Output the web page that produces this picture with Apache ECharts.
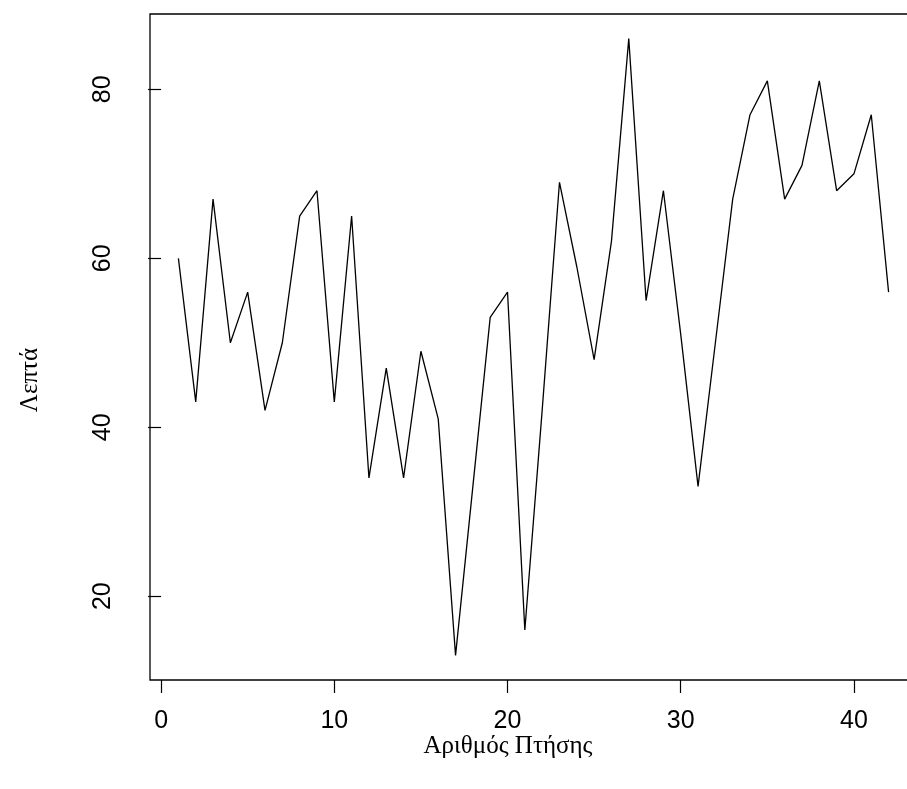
<!DOCTYPE html>
<html>
<head>
<meta charset="utf-8">
<script src="https://cdn.jsdelivr.net/npm/echarts@6/dist/echarts.min.js"></script>
<style>
html,body{margin:0;padding:0;background:#fff;}
#chart{width:907px;height:789px;}
</style>
</head>
<body>
<div id="chart"></div>
<script>
const flightNo = [1,2,3,4,5,6,7,8,9,10,11,12,13,14,15,16,17,18,19,20,21,22,23,24,25,26,27,28,29,30,31,32,33,34,35,36,37,38,39,40,41,42];
const minutes = [60,43,67,50,56,42,50,65,68,43,65,34,47,34,49,41,13,33,53,56,16,42,69,59,48,62,86,55,68,51,33,50,67,77,81,67,71,81,68,70,77,56];
const xTicks = [0,10,20,30,40];
const yTicks = [20,40,60,80];
const xTitle = 'Αριθμός Πτήσης';
const yTitle = 'Λεπτά';

const chart = echarts.init(document.getElementById('chart'), null, {renderer:'canvas'});
const tickFont = 'Liberation Sans, Arial, sans-serif';
const titleFont = 'Liberation Serif, Times New Roman, serif';
chart.setOption({
  animation:false,
  backgroundColor:'#fff',
  grid:{left:150, top:14, width:767, height:666, outerBoundsMode:'none', containLabel:false,
        show:true, borderColor:'#000', borderWidth:1.3, backgroundColor:'transparent'},
  xAxis:{
    type:'value', min:-0.64, max:43.64,
    axisLine:{show:false},
    splitLine:{show:false},
    axisTick:{show:true, customValues:xTicks, length:13, lineStyle:{color:'#000', width:1.2}},
    axisLabel:{customValues:xTicks, fontSize:25, fontFamily:tickFont, color:'#000', margin:29}
  },
  yAxis:{
    type:'value', min:10.08, max:88.92,
    axisLine:{show:false},
    splitLine:{show:false},
    axisTick:{show:true, customValues:yTicks, length:13, lineStyle:{color:'#000', width:1.2}},
    axisLabel:{customValues:yTicks, fontSize:25, fontFamily:tickFont, color:'#000', margin:34, rotate:90}
  },
  graphic:[
    {type:'text', x:508, y:746, style:{text:xTitle, font:'25px ' + titleFont, fill:'#000', align:'center', verticalAlign:'middle'}},
    {type:'text', x:30, y:380, rotation:Math.PI/2, style:{text:yTitle, font:'25px ' + titleFont, fill:'#000', align:'center', verticalAlign:'middle'}}
  ],
  series:[{
    type:'line',
    data:flightNo.map((x,i)=>[x, minutes[i]]),
    showSymbol:false,
    lineStyle:{color:'#000', width:1.3},
    clip:false
  }]
});
</script>
</body>
</html>
